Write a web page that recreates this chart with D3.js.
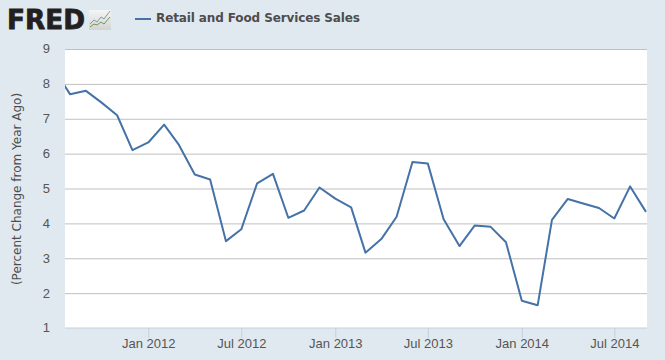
<!DOCTYPE html>
<html>
<head>
<meta charset="utf-8">
<script src="https://cdn.jsdelivr.net/npm/d3@7/dist/d3.min.js"></script>
<style>
  html, body { margin: 0; padding: 0; background: #e1e9f0; }
  svg { display: block; font-family: "DejaVu Sans", sans-serif; }
  .tick text { fill: #555; font-size: 13px; }
  .line { fill: none; stroke: #4572a7; stroke-width: 2px; stroke-linejoin: round; }
</style>
</head>
<body>
<div class="chart"></div>
<script>
const WIDTH = 665;
const HEIGHT = 360;

const SERIES_NAME = 'Retail and Food Services Sales';
const Y_TITLE = '(Percent Change from Year Ago)';
const Y_TICKS = [1, 2, 3, 4, 5, 6, 7, 8, 9];
const X_TICKS = ['2012-01-01', '2012-07-01', '2013-01-01', '2013-07-01', '2014-01-01', '2014-07-01'];

const months = [
    '2011-07-01', '2011-08-01', '2011-09-01', '2011-10-01', '2011-11-01', '2011-12-01',
    '2012-01-01', '2012-02-01', '2012-03-01', '2012-04-01', '2012-05-01', '2012-06-01',
    '2012-07-01', '2012-08-01', '2012-09-01', '2012-10-01', '2012-11-01', '2012-12-01',
    '2013-01-01', '2013-02-01', '2013-03-01', '2013-04-01', '2013-05-01', '2013-06-01',
    '2013-07-01', '2013-08-01', '2013-09-01', '2013-10-01', '2013-11-01', '2013-12-01',
    '2014-01-01', '2014-02-01', '2014-03-01', '2014-04-01', '2014-05-01', '2014-06-01',
    '2014-07-01', '2014-08-01', '2014-09-01'
];
const values = [
    8.4, 7.7, 7.8, 7.47, 7.1, 6.1,
    6.32, 6.83, 6.25, 5.4, 5.26, 3.49,
    3.83, 5.15, 5.42, 4.16, 4.37, 5.03,
    4.71, 4.46, 3.16, 3.55, 4.19, 5.76,
    5.72, 4.12, 3.35, 3.94, 3.9, 3.46,
    1.78, 1.65, 4.1, 4.7, 4.57, 4.44,
    4.14, 5.06, 4.33
];

const parseDate = d3.utcParse('%Y-%m-%d');
const PLOT = { left: 65, right: 647, top: 49, bottom: 328 };

// the visible window starts and ends between the monthly points
const xScale = d3.scaleUtc()
    .domain([parseDate('2011-07-22'), parseDate('2014-09-03')])
    .range([PLOT.left, PLOT.right]);
const yScale = d3.scaleLinear().domain([1, 9]).range([PLOT.bottom, PLOT.top]);

const svg = d3.select('.chart').append('svg')
    .attr('width', WIDTH)
    .attr('height', HEIGHT);

svg.append('rect')
    .attr('x', PLOT.left)
    .attr('y', PLOT.top)
    .attr('width', PLOT.right - PLOT.left)
    .attr('height', PLOT.bottom - PLOT.top)
    .attr('fill', '#fff');

svg.append('clipPath').attr('id', 'plot-clip').append('rect')
    .attr('x', PLOT.left)
    .attr('y', PLOT.top)
    .attr('width', PLOT.right - PLOT.left)
    .attr('height', PLOT.bottom - PLOT.top);

function drawAxes() {
    const yAxis = d3.axisLeft(yScale)
        .tickValues(Y_TICKS)
        .tickSize(0)
        .tickPadding(15)
        .tickFormat(d3.format('d'));
    const yG = svg.append('g').attr('transform', 'translate(' + PLOT.left + ',0)').call(yAxis);
    yG.select('.domain').remove();
    yG.selectAll('.tick text').attr('dy', '0.3em');

    // gridlines, none on the bottom value where the axis line sits
    yG.selectAll('.tick').filter(function (d) { return d > 1; })
        .append('line')
        .attr('x2', PLOT.right - PLOT.left)
        .attr('stroke', '#c0c0c0');

    const xAxis = d3.axisBottom(xScale)
        .tickValues(X_TICKS.map(parseDate))
        .tickSize(10)
        .tickPadding(1)
        .tickFormat(d3.utcFormat('%b %Y'));
    const xG = svg.append('g').attr('transform', 'translate(0,' + PLOT.bottom + ')').call(xAxis);
    xG.select('.domain').attr('stroke', '#c0d0e0').attr('d', 'M' + PLOT.left + ',0H' + PLOT.right);
    xG.selectAll('.tick line').attr('stroke', '#c0d0e0');

    svg.append('text')
        .attr('transform', 'translate(21,189) rotate(-90)')
        .attr('text-anchor', 'middle')
        .attr('fill', '#4d4d4d')
        .attr('font-size', 12)
        .text(Y_TITLE);
}

function drawLine() {
    const line = d3.line()
        .x(function (d, i) { return xScale(parseDate(months[i])); })
        .y(function (d) { return yScale(d); });
    svg.append('path')
        .attr('class', 'line')
        .attr('clip-path', 'url(#plot-clip)')
        .attr('d', line(values));
}

function drawLegend() {
    svg.append('line')
        .attr('x1', 135).attr('x2', 151)
        .attr('y1', 19).attr('y2', 19)
        .attr('stroke', '#4572a7')
        .attr('stroke-width', 2);
    svg.append('text')
        .attr('x', 156)
        .attr('y', 22)
        .attr('fill', '#4d4d4d')
        .attr('font-size', 12)
        .attr('font-weight', 'bold')
        .attr('textLength', 204)
        .text(SERIES_NAME);
}

function drawLogo() {
    svg.append('text')
        .attr('x', 7)
        .attr('y', 29)
        .attr('fill', '#231f20')
        .attr('font-size', 27)
        .attr('font-weight', 'bold')
        .attr('textLength', 78)
        .attr('lengthAdjust', 'spacingAndGlyphs')
        .attr('stroke', '#231f20')
        .attr('stroke-width', 0.8)
        .text('FRED');
    const defs = svg.append('defs').append('linearGradient')
        .attr('id', 'logo-bg').attr('x1', 0).attr('y1', 0).attr('x2', 0).attr('y2', 1);
    defs.append('stop').attr('offset', 0).attr('stop-color', '#f4f5f5');
    defs.append('stop').attr('offset', 1).attr('stop-color', '#d2d4d4');
    svg.append('rect')
        .attr('x', 89).attr('y', 10).attr('width', 22).attr('height', 20)
        .attr('fill', 'url(#logo-bg)');
    svg.append('path')
        .attr('d', 'M90,24L94,20L97,22L101,17L104,19L110,11')
        .attr('fill', 'none').attr('stroke', '#7f99ad').attr('stroke-width', 1);
    svg.append('path')
        .attr('d', 'M90,27L94,24L97,25L101,22L104,24L110,17')
        .attr('fill', 'none').attr('stroke', '#6f9a45').attr('stroke-width', 1);
}

drawAxes();
drawLine();
drawLegend();
drawLogo();
</script>
</body>
</html>
